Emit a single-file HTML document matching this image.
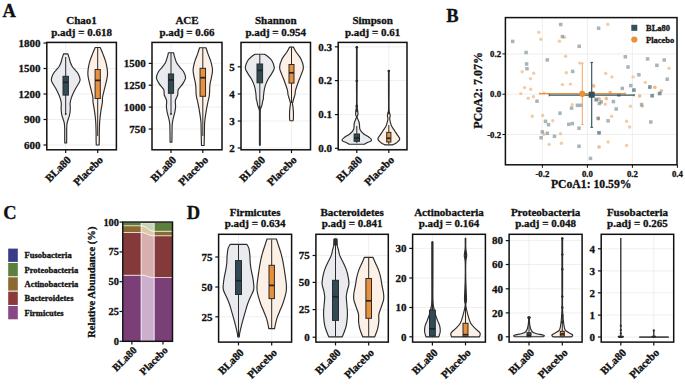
<!DOCTYPE html><html><head><meta charset="utf-8"><style>html,body{margin:0;padding:0;background:#fff;font-family:"Liberation Serif",serif;}svg{display:block;}</style></head><body>
<svg width="685" height="390" viewBox="0 0 685 390" font-family="&quot;Liberation Serif&quot;, serif" font-weight="bold" fill="#111">
<style>text{stroke:#111;stroke-width:0.3px;}</style>
<rect width="685" height="390" fill="#fff"/>
<text x="2.50" y="17.30" font-size="18.5" text-anchor="start" >A</text>
<text x="446.20" y="22.30" font-size="18.5" text-anchor="start" >B</text>
<text x="3.20" y="218.70" font-size="18.5" text-anchor="start" >C</text>
<text x="186.70" y="219.20" font-size="18.5" text-anchor="start" >D</text>
<line x1="46.8" y1="145" x2="116.4" y2="145" stroke="#ebebeb" stroke-width="0.8"/>
<line x1="46.8" y1="119.5" x2="116.4" y2="119.5" stroke="#ebebeb" stroke-width="0.8"/>
<line x1="46.8" y1="94" x2="116.4" y2="94" stroke="#ebebeb" stroke-width="0.8"/>
<line x1="46.8" y1="68.5" x2="116.4" y2="68.5" stroke="#ebebeb" stroke-width="0.8"/>
<line x1="46.8" y1="43" x2="116.4" y2="43" stroke="#ebebeb" stroke-width="0.8"/>
<line x1="65.7" y1="42.4" x2="65.7" y2="149.8" stroke="#ebebeb" stroke-width="0.8"/>
<line x1="97.7" y1="42.4" x2="97.7" y2="149.8" stroke="#ebebeb" stroke-width="0.8"/>
<path d="M67.80,53.80 C68.02,54.45 68.65,56.20 69.10,57.70 C69.55,59.20 69.95,61.30 70.50,62.80 C71.05,64.30 71.55,65.42 72.40,66.70 C73.25,67.98 74.58,69.22 75.60,70.50 C76.62,71.78 77.75,72.90 78.50,74.40 C79.25,75.90 80.05,78.02 80.10,79.50 C80.15,80.98 79.55,81.80 78.80,83.30 C78.05,84.80 76.55,86.78 75.60,88.50 C74.65,90.22 73.85,91.90 73.10,93.60 C72.35,95.30 71.60,97.05 71.10,98.70 C70.60,100.35 70.23,101.77 70.10,103.50 C69.97,105.23 70.38,107.22 70.30,109.10 C70.22,110.98 69.93,113.15 69.60,114.80 C69.27,116.45 68.72,117.60 68.30,119.00 C67.88,120.40 67.37,121.55 67.10,123.20 C66.83,124.85 66.77,126.43 66.70,128.90 C66.63,131.37 66.72,135.65 66.70,138.00 C66.68,140.35 66.62,142.17 66.60,143.00 L64.80,143.00 C64.78,142.17 64.72,140.35 64.70,138.00 C64.68,135.65 64.77,131.37 64.70,128.90 C64.63,126.43 64.57,124.85 64.30,123.20 C64.03,121.55 63.52,120.40 63.10,119.00 C62.68,117.60 62.13,116.45 61.80,114.80 C61.47,113.15 61.18,110.98 61.10,109.10 C61.02,107.22 61.43,105.23 61.30,103.50 C61.17,101.77 60.80,100.35 60.30,98.70 C59.80,97.05 59.05,95.30 58.30,93.60 C57.55,91.90 56.75,90.22 55.80,88.50 C54.85,86.78 53.35,84.80 52.60,83.30 C51.85,81.80 51.25,80.98 51.30,79.50 C51.35,78.02 52.15,75.90 52.90,74.40 C53.65,72.90 54.78,71.78 55.80,70.50 C56.82,69.22 58.15,67.98 59.00,66.70 C59.85,65.42 60.35,64.30 60.90,62.80 C61.45,61.30 61.85,59.20 62.30,57.70 C62.75,56.20 63.38,54.45 63.60,53.80 Z" fill="#e9ebee" stroke="#2b2b2b" stroke-width="1.15" stroke-linejoin="round"/>
<line x1="65.7" y1="57" x2="65.7" y2="114" stroke="#2b2b2b" stroke-width="1"/>
<rect x="63.00" y="76.30" width="5.40" height="18.80" fill="#2f4c56" stroke="#2b2b2b" stroke-width="1"/>
<line x1="63.00" y1="82.3" x2="68.40" y2="82.3" stroke="#222" stroke-width="1.7"/>
<circle cx="65.7" cy="114" r="0.9" fill="#222"/>
<path d="M100.20,47.50 C100.65,48.57 102.00,51.60 102.90,53.90 C103.80,56.20 104.88,58.82 105.60,61.30 C106.32,63.78 106.88,66.57 107.20,68.80 C107.52,71.03 107.62,72.72 107.50,74.70 C107.38,76.68 106.97,78.47 106.50,80.70 C106.03,82.93 105.35,85.38 104.70,88.10 C104.05,90.82 102.98,94.68 102.60,97.00 C102.22,99.32 102.63,99.98 102.40,102.00 C102.17,104.02 101.57,106.73 101.20,109.10 C100.83,111.47 100.47,113.85 100.20,116.20 C99.93,118.55 99.75,120.40 99.60,123.20 C99.45,126.00 99.35,130.20 99.30,133.00 C99.25,135.80 99.33,138.00 99.30,140.00 C99.27,142.00 99.13,144.17 99.10,145.00 L96.30,145.00 C96.27,144.17 96.13,142.00 96.10,140.00 C96.07,138.00 96.15,135.80 96.10,133.00 C96.05,130.20 95.95,126.00 95.80,123.20 C95.65,120.40 95.47,118.55 95.20,116.20 C94.93,113.85 94.57,111.47 94.20,109.10 C93.83,106.73 93.23,104.02 93.00,102.00 C92.77,99.98 93.18,99.32 92.80,97.00 C92.42,94.68 91.35,90.82 90.70,88.10 C90.05,85.38 89.37,82.93 88.90,80.70 C88.43,78.47 88.02,76.68 87.90,74.70 C87.78,72.72 87.88,71.03 88.20,68.80 C88.52,66.57 89.08,63.78 89.80,61.30 C90.52,58.82 91.60,56.20 92.50,53.90 C93.40,51.60 94.75,48.57 95.20,47.50 Z" fill="#fcf0e7" stroke="#2b2b2b" stroke-width="1.15" stroke-linejoin="round"/>
<line x1="97.7" y1="48" x2="97.7" y2="136" stroke="#2b2b2b" stroke-width="1"/>
<rect x="95.10" y="69.50" width="5.20" height="29.00" fill="#e8903a" stroke="#2b2b2b" stroke-width="1"/>
<line x1="95.10" y1="80.4" x2="100.30" y2="80.4" stroke="#222" stroke-width="1.7"/>
<rect x="46.8" y="42.4" width="69.60000000000001" height="107.4" fill="none" stroke="#111" stroke-width="1.5"/>
<line x1="43.5" y1="145" x2="46.8" y2="145" stroke="#111" stroke-width="1.2"/>
<text x="40.60" y="148.74" font-size="11" text-anchor="end" >600</text>
<line x1="43.5" y1="119.5" x2="46.8" y2="119.5" stroke="#111" stroke-width="1.2"/>
<text x="40.60" y="123.24" font-size="11" text-anchor="end" >900</text>
<line x1="43.5" y1="94" x2="46.8" y2="94" stroke="#111" stroke-width="1.2"/>
<text x="40.60" y="97.74" font-size="11" text-anchor="end" >1200</text>
<line x1="43.5" y1="68.5" x2="46.8" y2="68.5" stroke="#111" stroke-width="1.2"/>
<text x="40.60" y="72.24" font-size="11" text-anchor="end" >1500</text>
<line x1="43.5" y1="43" x2="46.8" y2="43" stroke="#111" stroke-width="1.2"/>
<text x="40.60" y="46.74" font-size="11" text-anchor="end" >1800</text>
<line x1="65.7" y1="149.8" x2="65.7" y2="153.10000000000002" stroke="#111" stroke-width="1.2"/>
<text x="71.70" y="160.60" font-size="11" text-anchor="end" transform="rotate(-45 71.70 160.60)">BLa80</text>
<line x1="97.7" y1="149.8" x2="97.7" y2="153.10000000000002" stroke="#111" stroke-width="1.2"/>
<text x="103.70" y="160.60" font-size="11" text-anchor="end" transform="rotate(-45 103.70 160.60)">Placebo</text>
<text x="81.60" y="23.70" font-size="11" text-anchor="middle" >Chao1</text>
<text x="81.60" y="35.50" font-size="11" text-anchor="middle" >p.adj = 0.618</text>
<line x1="152" y1="129" x2="222" y2="129" stroke="#ebebeb" stroke-width="0.8"/>
<line x1="152" y1="107.1" x2="222" y2="107.1" stroke="#ebebeb" stroke-width="0.8"/>
<line x1="152" y1="85.2" x2="222" y2="85.2" stroke="#ebebeb" stroke-width="0.8"/>
<line x1="152" y1="63.4" x2="222" y2="63.4" stroke="#ebebeb" stroke-width="0.8"/>
<line x1="171" y1="42.4" x2="171" y2="149.8" stroke="#ebebeb" stroke-width="0.8"/>
<line x1="202.8" y1="42.4" x2="202.8" y2="149.8" stroke="#ebebeb" stroke-width="0.8"/>
<path d="M173.60,52.70 C173.77,53.40 174.10,55.22 174.60,56.90 C175.10,58.58 175.72,61.07 176.60,62.80 C177.48,64.53 178.73,65.82 179.90,67.30 C181.07,68.78 182.65,69.97 183.60,71.70 C184.55,73.43 185.72,75.72 185.60,77.70 C185.48,79.68 184.12,81.62 182.90,83.60 C181.68,85.58 179.17,87.70 178.30,89.60 C177.43,91.50 178.18,93.17 177.70,95.00 C177.22,96.83 175.75,98.72 175.40,100.60 C175.05,102.48 175.68,104.42 175.60,106.30 C175.52,108.18 175.32,109.78 174.90,111.90 C174.48,114.02 173.55,116.88 173.10,119.00 C172.65,121.12 172.38,121.93 172.20,124.60 C172.02,127.27 172.05,132.07 172.00,135.00 C171.95,137.93 171.92,141.00 171.90,142.20 L170.10,142.20 C170.08,141.00 170.05,137.93 170.00,135.00 C169.95,132.07 169.98,127.27 169.80,124.60 C169.62,121.93 169.35,121.12 168.90,119.00 C168.45,116.88 167.52,114.02 167.10,111.90 C166.68,109.78 166.48,108.18 166.40,106.30 C166.32,104.42 166.95,102.48 166.60,100.60 C166.25,98.72 164.78,96.83 164.30,95.00 C163.82,93.17 164.57,91.50 163.70,89.60 C162.83,87.70 160.32,85.58 159.10,83.60 C157.88,81.62 156.52,79.68 156.40,77.70 C156.28,75.72 157.45,73.43 158.40,71.70 C159.35,69.97 160.93,68.78 162.10,67.30 C163.27,65.82 164.52,64.53 165.40,62.80 C166.28,61.07 166.90,58.58 167.40,56.90 C167.90,55.22 168.23,53.40 168.40,52.70 Z" fill="#e9ebee" stroke="#2b2b2b" stroke-width="1.15" stroke-linejoin="round"/>
<line x1="171" y1="53" x2="171" y2="114" stroke="#2b2b2b" stroke-width="1"/>
<rect x="168.40" y="74.00" width="5.20" height="19.30" fill="#2f4c56" stroke="#2b2b2b" stroke-width="1"/>
<line x1="168.40" y1="79.9" x2="173.60" y2="79.9" stroke="#222" stroke-width="1.7"/>
<circle cx="171" cy="114" r="0.9" fill="#222"/>
<path d="M206.00,47.70 C206.33,48.73 207.20,51.63 208.00,53.90 C208.80,56.17 210.05,58.70 210.80,61.30 C211.55,63.90 212.35,67.02 212.50,69.50 C212.65,71.98 212.13,73.60 211.70,76.20 C211.27,78.80 210.28,81.97 209.90,85.10 C209.52,88.23 209.73,92.18 209.40,95.00 C209.07,97.82 208.38,99.65 207.90,102.00 C207.42,104.35 206.92,106.73 206.50,109.10 C206.08,111.47 205.72,113.85 205.40,116.20 C205.08,118.55 204.77,120.15 204.60,123.20 C204.43,126.25 204.48,130.78 204.40,134.50 C204.32,138.22 204.15,143.67 204.10,145.50 L201.50,145.50 C201.45,143.67 201.28,138.22 201.20,134.50 C201.12,130.78 201.17,126.25 201.00,123.20 C200.83,120.15 200.52,118.55 200.20,116.20 C199.88,113.85 199.52,111.47 199.10,109.10 C198.68,106.73 198.18,104.35 197.70,102.00 C197.22,99.65 196.53,97.82 196.20,95.00 C195.87,92.18 196.08,88.23 195.70,85.10 C195.32,81.97 194.33,78.80 193.90,76.20 C193.47,73.60 192.95,71.98 193.10,69.50 C193.25,67.02 194.05,63.90 194.80,61.30 C195.55,58.70 196.80,56.17 197.60,53.90 C198.40,51.63 199.27,48.73 199.60,47.70 Z" fill="#fcf0e7" stroke="#2b2b2b" stroke-width="1.15" stroke-linejoin="round"/>
<line x1="202.8" y1="48" x2="202.8" y2="136" stroke="#2b2b2b" stroke-width="1"/>
<rect x="200.05" y="68.30" width="5.50" height="28.00" fill="#e8903a" stroke="#2b2b2b" stroke-width="1"/>
<line x1="200.05" y1="77.7" x2="205.55" y2="77.7" stroke="#222" stroke-width="1.7"/>
<rect x="152" y="42.4" width="70" height="107.4" fill="none" stroke="#111" stroke-width="1.5"/>
<line x1="148.7" y1="129" x2="152" y2="129" stroke="#111" stroke-width="1.2"/>
<text x="145.80" y="132.74" font-size="11" text-anchor="end" >750</text>
<line x1="148.7" y1="107.1" x2="152" y2="107.1" stroke="#111" stroke-width="1.2"/>
<text x="145.80" y="110.84" font-size="11" text-anchor="end" >1000</text>
<line x1="148.7" y1="85.2" x2="152" y2="85.2" stroke="#111" stroke-width="1.2"/>
<text x="145.80" y="88.94" font-size="11" text-anchor="end" >1250</text>
<line x1="148.7" y1="63.4" x2="152" y2="63.4" stroke="#111" stroke-width="1.2"/>
<text x="145.80" y="67.14" font-size="11" text-anchor="end" >1500</text>
<line x1="171" y1="149.8" x2="171" y2="153.10000000000002" stroke="#111" stroke-width="1.2"/>
<text x="177.00" y="160.60" font-size="11" text-anchor="end" transform="rotate(-45 177.00 160.60)">BLa80</text>
<line x1="202.8" y1="149.8" x2="202.8" y2="153.10000000000002" stroke="#111" stroke-width="1.2"/>
<text x="208.80" y="160.60" font-size="11" text-anchor="end" transform="rotate(-45 208.80 160.60)">Placebo</text>
<text x="187.00" y="23.70" font-size="11" text-anchor="middle" >ACE</text>
<text x="187.00" y="35.50" font-size="11" text-anchor="middle" >p.adj = 0.66</text>
<line x1="241" y1="148" x2="310.5" y2="148" stroke="#ebebeb" stroke-width="0.8"/>
<line x1="241" y1="121" x2="310.5" y2="121" stroke="#ebebeb" stroke-width="0.8"/>
<line x1="241" y1="94" x2="310.5" y2="94" stroke="#ebebeb" stroke-width="0.8"/>
<line x1="241" y1="66.8" x2="310.5" y2="66.8" stroke="#ebebeb" stroke-width="0.8"/>
<line x1="259.8" y1="42.4" x2="259.8" y2="149.8" stroke="#ebebeb" stroke-width="0.8"/>
<line x1="291.5" y1="42.4" x2="291.5" y2="149.8" stroke="#ebebeb" stroke-width="0.8"/>
<path d="M264.50,54.20 C265.02,54.55 266.38,55.25 267.60,56.30 C268.82,57.35 270.68,58.62 271.80,60.50 C272.92,62.38 274.28,65.48 274.30,67.60 C274.32,69.72 272.90,71.33 271.90,73.20 C270.90,75.07 269.42,76.68 268.30,78.80 C267.18,80.92 265.95,83.53 265.20,85.90 C264.45,88.27 264.12,90.77 263.80,93.00 C263.48,95.23 263.47,98.03 263.30,99.30 C263.13,100.57 263.05,99.55 262.80,100.60 C262.55,101.65 262.15,104.28 261.80,105.60 C261.45,106.92 260.98,107.43 260.70,108.50 C260.42,109.57 260.20,109.25 260.10,112.00 C260.00,114.75 260.10,119.48 260.10,125.00 C260.10,130.52 260.10,141.75 260.10,145.10 L259.50,145.10 C259.50,141.75 259.50,130.52 259.50,125.00 C259.50,119.48 259.60,114.75 259.50,112.00 C259.40,109.25 259.18,109.57 258.90,108.50 C258.62,107.43 258.15,106.92 257.80,105.60 C257.45,104.28 257.05,101.65 256.80,100.60 C256.55,99.55 256.47,100.57 256.30,99.30 C256.13,98.03 256.12,95.23 255.80,93.00 C255.48,90.77 255.15,88.27 254.40,85.90 C253.65,83.53 252.42,80.92 251.30,78.80 C250.18,76.68 248.70,75.07 247.70,73.20 C246.70,71.33 245.28,69.72 245.30,67.60 C245.32,65.48 246.68,62.38 247.80,60.50 C248.92,58.62 250.78,57.35 252.00,56.30 C253.22,55.25 254.58,54.55 255.10,54.20 Z" fill="#e9ebee" stroke="#2b2b2b" stroke-width="1.15" stroke-linejoin="round"/>
<line x1="259.8" y1="106" x2="259.8" y2="144.8" stroke="#333" stroke-width="1.7" stroke-linecap="round"/>
<line x1="259.8" y1="54.5" x2="259.8" y2="105.5" stroke="#2b2b2b" stroke-width="1"/>
<rect x="257.00" y="64.00" width="5.60" height="18.80" fill="#2f4c56" stroke="#2b2b2b" stroke-width="1"/>
<line x1="257.00" y1="70.4" x2="262.60" y2="70.4" stroke="#222" stroke-width="1.7"/>
<path d="M293.40,47.10 C293.85,47.92 294.83,50.00 296.10,52.00 C297.37,54.00 299.78,56.50 301.00,59.10 C302.22,61.70 303.37,65.02 303.40,67.60 C303.43,70.18 302.03,72.25 301.20,74.60 C300.37,76.95 299.33,79.12 298.40,81.70 C297.47,84.28 296.18,87.88 295.60,90.10 C295.02,92.32 295.23,93.48 294.90,95.00 C294.57,96.52 294.00,97.78 293.60,99.20 C293.20,100.62 292.62,102.32 292.50,103.50 C292.38,104.68 292.75,104.90 292.90,106.30 C293.05,107.70 293.32,109.78 293.40,111.90 C293.48,114.02 293.47,117.53 293.40,119.00 C293.33,120.47 293.07,120.42 293.00,120.70 L290.00,120.70 C289.93,120.42 289.67,120.47 289.60,119.00 C289.53,117.53 289.52,114.02 289.60,111.90 C289.68,109.78 289.95,107.70 290.10,106.30 C290.25,104.90 290.62,104.68 290.50,103.50 C290.38,102.32 289.80,100.62 289.40,99.20 C289.00,97.78 288.43,96.52 288.10,95.00 C287.77,93.48 287.98,92.32 287.40,90.10 C286.82,87.88 285.53,84.28 284.60,81.70 C283.67,79.12 282.63,76.95 281.80,74.60 C280.97,72.25 279.57,70.18 279.60,67.60 C279.63,65.02 280.78,61.70 282.00,59.10 C283.22,56.50 285.63,54.00 286.90,52.00 C288.17,50.00 289.15,47.92 289.60,47.10 Z" fill="#fcf0e7" stroke="#2b2b2b" stroke-width="1.15" stroke-linejoin="round"/>
<line x1="291.5" y1="47.5" x2="291.5" y2="103" stroke="#2b2b2b" stroke-width="1"/>
<rect x="289.00" y="64.50" width="5.00" height="18.60" fill="#e8903a" stroke="#2b2b2b" stroke-width="1"/>
<line x1="289.00" y1="72.8" x2="294.00" y2="72.8" stroke="#222" stroke-width="1.7"/>
<rect x="241" y="42.4" width="69.5" height="107.4" fill="none" stroke="#111" stroke-width="1.5"/>
<line x1="237.7" y1="148" x2="241" y2="148" stroke="#111" stroke-width="1.2"/>
<text x="234.80" y="151.74" font-size="11" text-anchor="end" >2</text>
<line x1="237.7" y1="121" x2="241" y2="121" stroke="#111" stroke-width="1.2"/>
<text x="234.80" y="124.74" font-size="11" text-anchor="end" >3</text>
<line x1="237.7" y1="94" x2="241" y2="94" stroke="#111" stroke-width="1.2"/>
<text x="234.80" y="97.74" font-size="11" text-anchor="end" >4</text>
<line x1="237.7" y1="66.8" x2="241" y2="66.8" stroke="#111" stroke-width="1.2"/>
<text x="234.80" y="70.54" font-size="11" text-anchor="end" >5</text>
<line x1="259.8" y1="149.8" x2="259.8" y2="153.10000000000002" stroke="#111" stroke-width="1.2"/>
<text x="265.80" y="160.60" font-size="11" text-anchor="end" transform="rotate(-45 265.80 160.60)">BLa80</text>
<line x1="291.5" y1="149.8" x2="291.5" y2="153.10000000000002" stroke="#111" stroke-width="1.2"/>
<text x="297.50" y="160.60" font-size="11" text-anchor="end" transform="rotate(-45 297.50 160.60)">Placebo</text>
<text x="275.75" y="23.70" font-size="11" text-anchor="middle" >Shannon</text>
<text x="275.75" y="35.50" font-size="11" text-anchor="middle" >p.adj = 0.954</text>
<line x1="338.2" y1="148.3" x2="407" y2="148.3" stroke="#ebebeb" stroke-width="0.8"/>
<line x1="338.2" y1="114.6" x2="407" y2="114.6" stroke="#ebebeb" stroke-width="0.8"/>
<line x1="338.2" y1="80.6" x2="407" y2="80.6" stroke="#ebebeb" stroke-width="0.8"/>
<line x1="338.2" y1="46.8" x2="407" y2="46.8" stroke="#ebebeb" stroke-width="0.8"/>
<line x1="356.8" y1="42.4" x2="356.8" y2="149.8" stroke="#ebebeb" stroke-width="0.8"/>
<line x1="388.8" y1="42.4" x2="388.8" y2="149.8" stroke="#ebebeb" stroke-width="0.8"/>
<path d="M357.10,46.80 C357.10,49.00 357.10,55.30 357.10,60.00 C357.10,64.70 357.10,70.50 357.10,75.00 C357.10,79.50 357.10,82.00 357.10,87.00 C357.10,92.00 356.95,100.48 357.10,105.00 C357.25,109.52 358.00,112.10 358.00,114.10 C358.00,116.10 356.88,115.52 357.10,117.00 C357.32,118.48 358.82,120.92 359.30,123.00 C359.78,125.08 359.25,127.67 360.00,129.50 C360.75,131.33 362.30,132.72 363.80,134.00 C365.30,135.28 367.72,136.13 369.00,137.20 C370.28,138.27 371.93,139.43 371.50,140.40 C371.07,141.37 367.57,142.37 366.40,143.00 C365.23,143.63 364.82,144.00 364.50,144.20 L349.10,144.20 C348.78,144.00 348.37,143.63 347.20,143.00 C346.03,142.37 342.53,141.37 342.10,140.40 C341.67,139.43 343.32,138.27 344.60,137.20 C345.88,136.13 348.30,135.28 349.80,134.00 C351.30,132.72 352.85,131.33 353.60,129.50 C354.35,127.67 353.82,125.08 354.30,123.00 C354.78,120.92 356.28,118.48 356.50,117.00 C356.72,115.52 355.60,116.10 355.60,114.10 C355.60,112.10 356.35,109.52 356.50,105.00 C356.65,100.48 356.50,92.00 356.50,87.00 C356.50,82.00 356.50,79.50 356.50,75.00 C356.50,70.50 356.50,64.70 356.50,60.00 C356.50,55.30 356.50,49.00 356.50,46.80 Z" fill="#e9ebee" stroke="#2b2b2b" stroke-width="1.15" stroke-linejoin="round"/>
<circle cx="356.8" cy="47.3" r="1.35" fill="#2b2b2b"/>
<circle cx="356.8" cy="81.0" r="1.35" fill="#2b2b2b"/>
<circle cx="356.8" cy="106.0" r="1.35" fill="#2b2b2b"/>
<circle cx="356.8" cy="110.7" r="1.35" fill="#2b2b2b"/>
<line x1="356.8" y1="126" x2="356.8" y2="143" stroke="#2b2b2b" stroke-width="1"/>
<rect x="354.10" y="134.00" width="5.40" height="7.30" fill="#2f4c56" stroke="#2b2b2b" stroke-width="1"/>
<line x1="354.10" y1="138" x2="359.50" y2="138" stroke="#222" stroke-width="1.7"/>
<path d="M389.10,70.50 C389.10,73.75 389.10,83.42 389.10,90.00 C389.10,96.58 388.92,105.77 389.10,110.00 C389.28,114.23 390.10,113.90 390.20,115.40 C390.30,116.90 389.50,117.30 389.70,119.00 C389.90,120.70 390.58,123.63 391.40,125.60 C392.22,127.57 393.65,129.30 394.60,130.80 C395.55,132.30 396.25,133.22 397.10,134.60 C397.95,135.98 399.85,137.70 399.70,139.10 C399.55,140.50 397.38,142.03 396.20,143.00 C395.02,143.97 393.20,144.58 392.60,144.90 L385.00,144.90 C384.40,144.58 382.58,143.97 381.40,143.00 C380.22,142.03 378.05,140.50 377.90,139.10 C377.75,137.70 379.65,135.98 380.50,134.60 C381.35,133.22 382.05,132.30 383.00,130.80 C383.95,129.30 385.38,127.57 386.20,125.60 C387.02,123.63 387.70,120.70 387.90,119.00 C388.10,117.30 387.30,116.90 387.40,115.40 C387.50,113.90 388.32,114.23 388.50,110.00 C388.68,105.77 388.50,96.58 388.50,90.00 C388.50,83.42 388.50,73.75 388.50,70.50 Z" fill="#fcf0e7" stroke="#2b2b2b" stroke-width="1.15" stroke-linejoin="round"/>
<circle cx="388.8" cy="71.0" r="1.3" fill="#2b2b2b"/>
<circle cx="388.8" cy="113.0" r="1.3" fill="#2b2b2b"/>
<line x1="388.8" y1="125" x2="388.8" y2="144" stroke="#2b2b2b" stroke-width="1"/>
<rect x="386.70" y="132.40" width="4.20" height="9.60" fill="#e8903a" stroke="#2b2b2b" stroke-width="1"/>
<line x1="386.70" y1="138.3" x2="390.90" y2="138.3" stroke="#222" stroke-width="1.7"/>
<rect x="338.2" y="42.4" width="68.80000000000001" height="107.4" fill="none" stroke="#111" stroke-width="1.5"/>
<line x1="334.9" y1="148.3" x2="338.2" y2="148.3" stroke="#111" stroke-width="1.2"/>
<text x="332.00" y="152.04" font-size="11" text-anchor="end" >0.0</text>
<line x1="334.9" y1="114.6" x2="338.2" y2="114.6" stroke="#111" stroke-width="1.2"/>
<text x="332.00" y="118.34" font-size="11" text-anchor="end" >0.1</text>
<line x1="334.9" y1="80.6" x2="338.2" y2="80.6" stroke="#111" stroke-width="1.2"/>
<text x="332.00" y="84.34" font-size="11" text-anchor="end" >0.2</text>
<line x1="334.9" y1="46.8" x2="338.2" y2="46.8" stroke="#111" stroke-width="1.2"/>
<text x="332.00" y="50.54" font-size="11" text-anchor="end" >0.3</text>
<line x1="356.8" y1="149.8" x2="356.8" y2="153.10000000000002" stroke="#111" stroke-width="1.2"/>
<text x="362.80" y="160.60" font-size="11" text-anchor="end" transform="rotate(-45 362.80 160.60)">BLa80</text>
<line x1="388.8" y1="149.8" x2="388.8" y2="153.10000000000002" stroke="#111" stroke-width="1.2"/>
<text x="394.80" y="160.60" font-size="11" text-anchor="end" transform="rotate(-45 394.80 160.60)">Placebo</text>
<text x="372.60" y="23.70" font-size="11" text-anchor="middle" >Simpson</text>
<text x="372.60" y="35.50" font-size="11" text-anchor="middle" >p.adj = 0.61</text>
<line x1="505.4" y1="53.900000000000006" x2="677" y2="53.900000000000006" stroke="#ebebeb" stroke-width="0.8"/>
<line x1="505.4" y1="94.2" x2="677" y2="94.2" stroke="#ebebeb" stroke-width="0.8"/>
<line x1="505.4" y1="134.5" x2="677" y2="134.5" stroke="#ebebeb" stroke-width="0.8"/>
<line x1="542.4" y1="17.6" x2="542.4" y2="164.8" stroke="#ebebeb" stroke-width="0.8"/>
<line x1="587.4" y1="17.6" x2="587.4" y2="164.8" stroke="#ebebeb" stroke-width="0.8"/>
<line x1="632.4" y1="17.6" x2="632.4" y2="164.8" stroke="#ebebeb" stroke-width="0.8"/>
<line x1="677.4" y1="17.6" x2="677.4" y2="164.8" stroke="#ebebeb" stroke-width="0.8"/>
<circle cx="538.8" cy="32.2" r="1.7" fill="#f0b27a" fill-opacity="0.68"/>
<circle cx="540.9" cy="39.3" r="1.7" fill="#f0b27a" fill-opacity="0.68"/>
<circle cx="559.4" cy="41.2" r="1.7" fill="#f0b27a" fill-opacity="0.68"/>
<circle cx="564.4" cy="37.3" r="1.7" fill="#f0b27a" fill-opacity="0.68"/>
<circle cx="565.6" cy="56.2" r="1.7" fill="#f0b27a" fill-opacity="0.68"/>
<circle cx="579.7" cy="63.1" r="1.7" fill="#f0b27a" fill-opacity="0.68"/>
<circle cx="522.2" cy="71.7" r="1.7" fill="#f0b27a" fill-opacity="0.68"/>
<circle cx="533.7" cy="73.3" r="1.7" fill="#f0b27a" fill-opacity="0.68"/>
<circle cx="530.5" cy="78.6" r="1.7" fill="#f0b27a" fill-opacity="0.68"/>
<circle cx="566.3" cy="72.8" r="1.7" fill="#f0b27a" fill-opacity="0.68"/>
<circle cx="562.4" cy="84.6" r="1.7" fill="#f0b27a" fill-opacity="0.68"/>
<circle cx="570.4" cy="84.1" r="1.7" fill="#f0b27a" fill-opacity="0.68"/>
<circle cx="524.5" cy="87.6" r="1.7" fill="#f0b27a" fill-opacity="0.68"/>
<circle cx="530.7" cy="89.2" r="1.7" fill="#f0b27a" fill-opacity="0.68"/>
<circle cx="520.8" cy="93.6" r="1.7" fill="#f0b27a" fill-opacity="0.68"/>
<circle cx="543.9" cy="93.1" r="1.7" fill="#f0b27a" fill-opacity="0.68"/>
<circle cx="593.5" cy="85.5" r="1.7" fill="#f0b27a" fill-opacity="0.68"/>
<circle cx="528.2" cy="98.2" r="1.7" fill="#f0b27a" fill-opacity="0.68"/>
<circle cx="533.5" cy="96.8" r="1.7" fill="#f0b27a" fill-opacity="0.68"/>
<circle cx="607.8" cy="24.3" r="1.7" fill="#f0b27a" fill-opacity="0.68"/>
<circle cx="669.1" cy="68.3" r="1.7" fill="#f0b27a" fill-opacity="0.68"/>
<circle cx="605.7" cy="73.4" r="1.7" fill="#f0b27a" fill-opacity="0.68"/>
<circle cx="611.9" cy="76.9" r="1.7" fill="#f0b27a" fill-opacity="0.68"/>
<circle cx="633.1" cy="76.9" r="1.7" fill="#f0b27a" fill-opacity="0.68"/>
<circle cx="645.3" cy="82.4" r="1.7" fill="#f0b27a" fill-opacity="0.68"/>
<circle cx="655" cy="87.5" r="1.7" fill="#f0b27a" fill-opacity="0.68"/>
<circle cx="661.5" cy="90.9" r="1.7" fill="#f0b27a" fill-opacity="0.68"/>
<circle cx="610.3" cy="92.1" r="1.7" fill="#f0b27a" fill-opacity="0.68"/>
<circle cx="639.6" cy="96" r="1.7" fill="#f0b27a" fill-opacity="0.68"/>
<circle cx="599.2" cy="98.8" r="1.7" fill="#f0b27a" fill-opacity="0.68"/>
<circle cx="606.1" cy="98.3" r="1.7" fill="#f0b27a" fill-opacity="0.68"/>
<circle cx="572.3" cy="104.6" r="1.7" fill="#f0b27a" fill-opacity="0.68"/>
<circle cx="532.3" cy="116.2" r="1.7" fill="#f0b27a" fill-opacity="0.68"/>
<circle cx="542.7" cy="115.5" r="1.7" fill="#f0b27a" fill-opacity="0.68"/>
<circle cx="552.7" cy="120.8" r="1.7" fill="#f0b27a" fill-opacity="0.68"/>
<circle cx="543.9" cy="134.2" r="1.7" fill="#f0b27a" fill-opacity="0.68"/>
<circle cx="560.5" cy="133.7" r="1.7" fill="#f0b27a" fill-opacity="0.68"/>
<circle cx="549.2" cy="144.4" r="1.7" fill="#f0b27a" fill-opacity="0.68"/>
<circle cx="561.4" cy="143.2" r="1.7" fill="#f0b27a" fill-opacity="0.68"/>
<circle cx="598.2" cy="118" r="1.7" fill="#f0b27a" fill-opacity="0.68"/>
<circle cx="598.8" cy="146.9" r="1.7" fill="#f0b27a" fill-opacity="0.68"/>
<circle cx="593.8" cy="86.2" r="1.7" fill="#f0b27a" fill-opacity="0.68"/>
<circle cx="654.7" cy="87.3" r="1.7" fill="#f0b27a" fill-opacity="0.68"/>
<circle cx="661.2" cy="90.8" r="1.7" fill="#f0b27a" fill-opacity="0.68"/>
<circle cx="610" cy="92.4" r="1.7" fill="#f0b27a" fill-opacity="0.68"/>
<circle cx="599.3" cy="99.3" r="1.7" fill="#f0b27a" fill-opacity="0.68"/>
<circle cx="606.5" cy="98.9" r="1.7" fill="#f0b27a" fill-opacity="0.68"/>
<circle cx="605.3" cy="104.2" r="1.7" fill="#f0b27a" fill-opacity="0.68"/>
<circle cx="639.7" cy="95.9" r="1.7" fill="#f0b27a" fill-opacity="0.68"/>
<circle cx="630.5" cy="106.2" r="1.7" fill="#f0b27a" fill-opacity="0.68"/>
<circle cx="642.3" cy="106.2" r="1.7" fill="#f0b27a" fill-opacity="0.68"/>
<circle cx="611.6" cy="116.2" r="1.7" fill="#f0b27a" fill-opacity="0.68"/>
<circle cx="598.4" cy="118.5" r="1.7" fill="#f0b27a" fill-opacity="0.68"/>
<circle cx="626.6" cy="121.3" r="1.7" fill="#f0b27a" fill-opacity="0.68"/>
<circle cx="629.6" cy="127" r="1.7" fill="#f0b27a" fill-opacity="0.68"/>
<circle cx="608.1" cy="142" r="1.7" fill="#f0b27a" fill-opacity="0.68"/>
<circle cx="599.3" cy="146.9" r="1.7" fill="#f0b27a" fill-opacity="0.68"/>
<circle cx="626.6" cy="145.5" r="1.7" fill="#f0b27a" fill-opacity="0.68"/>
<rect x="510.95" y="39.65" width="3.5" height="3.5" fill="#5f7680" fill-opacity="0.55"/>
<rect x="558.95" y="22.75" width="3.5" height="3.5" fill="#5f7680" fill-opacity="0.55"/>
<rect x="560.65" y="34.85" width="3.5" height="3.5" fill="#5f7680" fill-opacity="0.55"/>
<rect x="577.45" y="44.55" width="3.5" height="3.5" fill="#5f7680" fill-opacity="0.55"/>
<rect x="596.85" y="26.45" width="3.5" height="3.5" fill="#5f7680" fill-opacity="0.55"/>
<rect x="524.35" y="50.75" width="3.5" height="3.5" fill="#5f7680" fill-opacity="0.55"/>
<rect x="545.55" y="58.15" width="3.5" height="3.5" fill="#5f7680" fill-opacity="0.55"/>
<rect x="524.85" y="62.25" width="3.5" height="3.5" fill="#5f7680" fill-opacity="0.55"/>
<rect x="525.25" y="66.95" width="3.5" height="3.5" fill="#5f7680" fill-opacity="0.55"/>
<rect x="570.95" y="69.65" width="3.5" height="3.5" fill="#5f7680" fill-opacity="0.55"/>
<rect x="623.55" y="55.05" width="3.5" height="3.5" fill="#5f7680" fill-opacity="0.55"/>
<rect x="645.85" y="57.15" width="3.5" height="3.5" fill="#5f7680" fill-opacity="0.55"/>
<rect x="662.45" y="58.25" width="3.5" height="3.5" fill="#5f7680" fill-opacity="0.55"/>
<rect x="655.15" y="63.55" width="3.5" height="3.5" fill="#5f7680" fill-opacity="0.55"/>
<rect x="626.25" y="65.25" width="3.5" height="3.5" fill="#5f7680" fill-opacity="0.55"/>
<rect x="637.15" y="73.05" width="3.5" height="3.5" fill="#5f7680" fill-opacity="0.55"/>
<rect x="665.45" y="77.45" width="3.5" height="3.5" fill="#5f7680" fill-opacity="0.55"/>
<rect x="629.05" y="83.85" width="3.5" height="3.5" fill="#5f7680" fill-opacity="0.55"/>
<rect x="620.55" y="86.65" width="3.5" height="3.5" fill="#5f7680" fill-opacity="0.55"/>
<rect x="648.25" y="85.05" width="3.5" height="3.5" fill="#5f7680" fill-opacity="0.55"/>
<rect x="632.05" y="88.45" width="3.5" height="3.5" fill="#5f7680" fill-opacity="0.55"/>
<rect x="658.15" y="91.75" width="3.5" height="3.5" fill="#5f7680" fill-opacity="0.55"/>
<rect x="650.55" y="93.75" width="3.5" height="3.5" fill="#5f7680" fill-opacity="0.55"/>
<rect x="617.05" y="93.15" width="3.5" height="3.5" fill="#5f7680" fill-opacity="0.55"/>
<rect x="535.25" y="99.45" width="3.5" height="3.5" fill="#5f7680" fill-opacity="0.55"/>
<rect x="569.85" y="106.35" width="3.5" height="3.5" fill="#5f7680" fill-opacity="0.55"/>
<rect x="575.65" y="103.55" width="3.5" height="3.5" fill="#5f7680" fill-opacity="0.55"/>
<rect x="579.05" y="103.55" width="3.5" height="3.5" fill="#5f7680" fill-opacity="0.55"/>
<rect x="558.25" y="111.45" width="3.5" height="3.5" fill="#5f7680" fill-opacity="0.55"/>
<rect x="543.75" y="119.55" width="3.5" height="3.5" fill="#5f7680" fill-opacity="0.55"/>
<rect x="546.75" y="122.95" width="3.5" height="3.5" fill="#5f7680" fill-opacity="0.55"/>
<rect x="567.05" y="122.55" width="3.5" height="3.5" fill="#5f7680" fill-opacity="0.55"/>
<rect x="570.55" y="121.85" width="3.5" height="3.5" fill="#5f7680" fill-opacity="0.55"/>
<rect x="577.25" y="126.45" width="3.5" height="3.5" fill="#5f7680" fill-opacity="0.55"/>
<rect x="540.55" y="130.15" width="3.5" height="3.5" fill="#5f7680" fill-opacity="0.55"/>
<rect x="545.55" y="131.55" width="3.5" height="3.5" fill="#5f7680" fill-opacity="0.55"/>
<rect x="552.75" y="134.55" width="3.5" height="3.5" fill="#5f7680" fill-opacity="0.55"/>
<rect x="539.35" y="135.95" width="3.5" height="3.5" fill="#5f7680" fill-opacity="0.55"/>
<rect x="577.25" y="144.45" width="3.5" height="3.5" fill="#5f7680" fill-opacity="0.55"/>
<rect x="588.75" y="156.65" width="3.5" height="3.5" fill="#5f7680" fill-opacity="0.55"/>
<rect x="594.75" y="97.55" width="3.5" height="3.5" fill="#5f7680" fill-opacity="0.55"/>
<rect x="597.05" y="131.05" width="3.5" height="3.5" fill="#5f7680" fill-opacity="0.55"/>
<rect x="632.25" y="88.25" width="3.5" height="3.5" fill="#5f7680" fill-opacity="0.55"/>
<rect x="647.95" y="85.55" width="3.5" height="3.5" fill="#5f7680" fill-opacity="0.55"/>
<rect x="657.65" y="91.75" width="3.5" height="3.5" fill="#5f7680" fill-opacity="0.55"/>
<rect x="650.25" y="94.15" width="3.5" height="3.5" fill="#5f7680" fill-opacity="0.55"/>
<rect x="594.25" y="98.25" width="3.5" height="3.5" fill="#5f7680" fill-opacity="0.55"/>
<rect x="597.55" y="101.75" width="3.5" height="3.5" fill="#5f7680" fill-opacity="0.55"/>
<rect x="599.45" y="100.15" width="3.5" height="3.5" fill="#5f7680" fill-opacity="0.55"/>
<rect x="611.65" y="99.85" width="3.5" height="3.5" fill="#5f7680" fill-opacity="0.55"/>
<rect x="617.25" y="92.95" width="3.5" height="3.5" fill="#5f7680" fill-opacity="0.55"/>
<rect x="614.45" y="107.25" width="3.5" height="3.5" fill="#5f7680" fill-opacity="0.55"/>
<rect x="639.85" y="102.85" width="3.5" height="3.5" fill="#5f7680" fill-opacity="0.55"/>
<rect x="596.45" y="116.75" width="3.5" height="3.5" fill="#5f7680" fill-opacity="0.55"/>
<rect x="606.35" y="119.05" width="3.5" height="3.5" fill="#5f7680" fill-opacity="0.55"/>
<rect x="649.05" y="120.25" width="3.5" height="3.5" fill="#5f7680" fill-opacity="0.55"/>
<rect x="597.55" y="131.05" width="3.5" height="3.5" fill="#5f7680" fill-opacity="0.55"/>
<line x1="539.8" y1="93.6" x2="625.2" y2="93.6" stroke="#e8913a" stroke-width="1.4"/>
<line x1="539.8" y1="92.4" x2="539.8" y2="94.8" stroke="#e8913a" stroke-width="1"/>
<line x1="625.2" y1="92.4" x2="625.2" y2="94.8" stroke="#e8913a" stroke-width="1"/>
<line x1="549.2" y1="95.1" x2="634.1" y2="95.1" stroke="#34505a" stroke-width="1.4"/>
<line x1="549.2" y1="93.9" x2="549.2" y2="96.3" stroke="#34505a" stroke-width="1"/>
<line x1="634.1" y1="93.9" x2="634.1" y2="96.3" stroke="#34505a" stroke-width="1"/>
<line x1="582.3" y1="63.1" x2="582.3" y2="124.5" stroke="#eea565" stroke-width="1.0"/>
<line x1="581" y1="63.1" x2="583.6" y2="63.1" stroke="#eea565" stroke-width="0.9"/>
<line x1="581" y1="124.5" x2="583.6" y2="124.5" stroke="#eea565" stroke-width="0.9"/>
<line x1="591.7" y1="62.4" x2="591.7" y2="127.3" stroke="#34505a" stroke-width="1.15"/>
<line x1="590.3" y1="62.4" x2="593.1" y2="62.4" stroke="#34505a" stroke-width="1"/>
<line x1="590.3" y1="127.3" x2="593.1" y2="127.3" stroke="#34505a" stroke-width="1"/>
<circle cx="582.3" cy="93.8" r="3.1" fill="#e8913a"/>
<rect x="588.7" y="91.7" width="6" height="6" fill="#34505a"/>
<rect x="631.3" y="24.8" width="6" height="6" fill="#34505a"/>
<circle cx="634.3" cy="39.5" r="3.1" fill="#e8913a"/>
<text x="646.00" y="30.80" font-size="8.5" text-anchor="start" >BLa80</text>
<text x="646.00" y="42.50" font-size="8.5" text-anchor="start" >Placebo</text>
<rect x="505.4" y="17.6" width="171.60000000000002" height="147.20000000000002" fill="none" stroke="#111" stroke-width="1.5"/>
<line x1="502.4" y1="53.900000000000006" x2="505.4" y2="53.900000000000006" stroke="#111" stroke-width="1"/>
<text x="501.10" y="56.90" font-size="8.8" text-anchor="end" >0.2</text>
<line x1="502.4" y1="94.2" x2="505.4" y2="94.2" stroke="#111" stroke-width="1"/>
<text x="501.10" y="97.20" font-size="8.8" text-anchor="end" >0.0</text>
<line x1="502.4" y1="134.5" x2="505.4" y2="134.5" stroke="#111" stroke-width="1"/>
<text x="501.10" y="137.50" font-size="8.8" text-anchor="end" >-0.2</text>
<line x1="542.4" y1="164.8" x2="542.4" y2="167.8" stroke="#111" stroke-width="1"/>
<text x="542.40" y="177.20" font-size="8.8" text-anchor="middle" >-0.2</text>
<line x1="587.4" y1="164.8" x2="587.4" y2="167.8" stroke="#111" stroke-width="1"/>
<text x="587.40" y="177.20" font-size="8.8" text-anchor="middle" >0.0</text>
<line x1="632.4" y1="164.8" x2="632.4" y2="167.8" stroke="#111" stroke-width="1"/>
<text x="632.40" y="177.20" font-size="8.8" text-anchor="middle" >0.2</text>
<line x1="677.4" y1="164.8" x2="677.4" y2="167.8" stroke="#111" stroke-width="1"/>
<text x="677.40" y="177.20" font-size="8.8" text-anchor="middle" >0.4</text>
<text x="591.20" y="188.40" font-size="11.7" text-anchor="middle" >PCoA1: 10.59%</text>
<text x="482.3" y="90.4" font-size="12" text-anchor="middle" transform="rotate(-90 482.3 90.4)">PCoA2: 7.07%</text>
<rect x="8.2" y="248.60" width="9.6" height="13.3" fill="#3a3a8a"/>
<text x="24.50" y="258.20" font-size="8.5" text-anchor="start" >Fusobacteria</text>
<rect x="8.2" y="262.95" width="9.6" height="13.3" fill="#5c7f3c"/>
<text x="24.50" y="272.55" font-size="8.5" text-anchor="start" >Proteobacteria</text>
<rect x="8.2" y="277.30" width="9.6" height="13.3" fill="#8b692f"/>
<text x="24.50" y="286.90" font-size="8.5" text-anchor="start" >Actinobacteria</text>
<rect x="8.2" y="291.65" width="9.6" height="13.3" fill="#8a3a3a"/>
<text x="24.50" y="301.25" font-size="8.5" text-anchor="start" >Bacteroidetes</text>
<rect x="8.2" y="306.00" width="9.6" height="13.3" fill="#874886"/>
<text x="24.50" y="315.60" font-size="8.5" text-anchor="start" >Firmicutes</text>
<path d="M141.0,275.14 C147.6,275.14 147.6,277.53 154.2,277.53 L154.2,341.30 C147.6,341.30 147.6,341.30 141.0,341.30 Z" fill="#ccafcd" stroke="#fff" stroke-width="0.6"/>
<path d="M141.0,232.47 C147.6,232.47 147.6,235.81 154.2,235.81 L154.2,277.53 C147.6,277.53 147.6,275.14 141.0,275.14 Z" fill="#d9aeae" stroke="#fff" stroke-width="0.6"/>
<path d="M141.0,225.80 C147.6,225.80 147.6,231.16 154.2,231.16 L154.2,235.81 C147.6,235.81 147.6,232.47 141.0,232.47 Z" fill="#dccaa6" stroke="#fff" stroke-width="0.6"/>
<path d="M141.0,222.70 C147.6,222.70 147.6,222.70 154.2,222.70 L154.2,231.16 C147.6,231.16 147.6,225.80 141.0,225.80 Z" fill="#c8d4b6" stroke="#fff" stroke-width="0.6"/>
<path d="M141.0,222.10 C147.6,222.10 147.6,222.10 154.2,222.10 L154.2,222.70 C147.6,222.70 147.6,222.70 141.0,222.70 Z" fill="#b8b8d6" stroke="#fff" stroke-width="0.6"/>
<rect x="122.8" y="275.14" width="18.200000000000003" height="66.16" fill="#7b3f78" stroke="#fff" stroke-width="0.6"/>
<rect x="154.2" y="277.53" width="18.30000000000001" height="63.77" fill="#7b3f78" stroke="#fff" stroke-width="0.6"/>
<rect x="122.8" y="232.47" width="18.200000000000003" height="42.67" fill="#843a3a" stroke="#fff" stroke-width="0.6"/>
<rect x="154.2" y="235.81" width="18.30000000000001" height="41.72" fill="#843a3a" stroke="#fff" stroke-width="0.6"/>
<rect x="122.8" y="225.80" width="18.200000000000003" height="6.68" fill="#8b692f" stroke="#fff" stroke-width="0.6"/>
<rect x="154.2" y="231.16" width="18.30000000000001" height="4.65" fill="#8b692f" stroke="#fff" stroke-width="0.6"/>
<rect x="122.8" y="222.70" width="18.200000000000003" height="3.10" fill="#5c7f3c" stroke="#fff" stroke-width="0.6"/>
<rect x="154.2" y="222.70" width="18.30000000000001" height="8.46" fill="#5c7f3c" stroke="#fff" stroke-width="0.6"/>
<rect x="122.8" y="222.10" width="18.200000000000003" height="0.60" fill="#3a3a8a" stroke="#fff" stroke-width="0.6"/>
<rect x="154.2" y="222.10" width="18.30000000000001" height="0.60" fill="#3a3a8a" stroke="#fff" stroke-width="0.6"/>
<rect x="122.8" y="222.1" width="49.7" height="119.20000000000002" fill="none" stroke="#111" stroke-width="1.5"/>
<line x1="119.5" y1="341.30" x2="122.8" y2="341.30" stroke="#111" stroke-width="1.2"/>
<text x="119.00" y="344.80" font-size="10.4" text-anchor="end" >0</text>
<line x1="119.5" y1="311.50" x2="122.8" y2="311.50" stroke="#111" stroke-width="1.2"/>
<text x="119.00" y="315.00" font-size="10.4" text-anchor="end" >25</text>
<line x1="119.5" y1="281.70" x2="122.8" y2="281.70" stroke="#111" stroke-width="1.2"/>
<text x="119.00" y="285.20" font-size="10.4" text-anchor="end" >50</text>
<line x1="119.5" y1="251.90" x2="122.8" y2="251.90" stroke="#111" stroke-width="1.2"/>
<text x="119.00" y="255.40" font-size="10.4" text-anchor="end" >75</text>
<line x1="119.5" y1="222.10" x2="122.8" y2="222.10" stroke="#111" stroke-width="1.2"/>
<text x="119.00" y="225.60" font-size="10.4" text-anchor="end" >100</text>
<line x1="131.9" y1="341.3" x2="131.9" y2="344.6" stroke="#111" stroke-width="1.2"/>
<text x="137.50" y="350.90" font-size="10.5" text-anchor="end" transform="rotate(-45 137.50 350.90)">BLa80</text>
<line x1="163" y1="341.3" x2="163" y2="344.6" stroke="#111" stroke-width="1.2"/>
<text x="168.60" y="350.90" font-size="10.5" text-anchor="end" transform="rotate(-45 168.60 350.90)">Placebo</text>
<text x="95.4" y="282.2" font-size="10.6" text-anchor="middle" transform="rotate(-90 95.4 282.2)">Relative Abundance (%)</text>
<line x1="218.6" y1="316.8" x2="291.6" y2="316.8" stroke="#ebebeb" stroke-width="0.8"/>
<line x1="218.6" y1="287.0" x2="291.6" y2="287.0" stroke="#ebebeb" stroke-width="0.8"/>
<line x1="218.6" y1="257.0" x2="291.6" y2="257.0" stroke="#ebebeb" stroke-width="0.8"/>
<line x1="238.5" y1="234.3" x2="238.5" y2="342.1" stroke="#ebebeb" stroke-width="0.8"/>
<line x1="271.7" y1="234.3" x2="271.7" y2="342.1" stroke="#ebebeb" stroke-width="0.8"/>
<path d="M246.80,244.30 C247.15,244.98 248.38,246.52 248.90,248.40 C249.42,250.28 249.68,253.22 249.90,255.60 C250.12,257.98 249.98,260.32 250.20,262.70 C250.42,265.08 250.78,267.50 251.20,269.90 C251.62,272.30 252.28,274.70 252.70,277.10 C253.12,279.50 253.55,282.15 253.70,284.30 C253.85,286.45 254.12,287.93 253.60,290.00 C253.08,292.07 251.60,294.37 250.60,296.70 C249.60,299.03 248.47,301.57 247.60,304.00 C246.73,306.43 246.12,308.87 245.40,311.30 C244.68,313.73 243.97,316.17 243.30,318.60 C242.63,321.03 242.00,323.47 241.40,325.90 C240.80,328.33 240.05,331.37 239.70,333.20 C239.35,335.03 239.37,336.28 239.30,336.90 L237.70,336.90 C237.63,336.28 237.65,335.03 237.30,333.20 C236.95,331.37 236.20,328.33 235.60,325.90 C235.00,323.47 234.37,321.03 233.70,318.60 C233.03,316.17 232.32,313.73 231.60,311.30 C230.88,308.87 230.27,306.43 229.40,304.00 C228.53,301.57 227.40,299.03 226.40,296.70 C225.40,294.37 223.92,292.07 223.40,290.00 C222.88,287.93 223.15,286.45 223.30,284.30 C223.45,282.15 223.88,279.50 224.30,277.10 C224.72,274.70 225.38,272.30 225.80,269.90 C226.22,267.50 226.58,265.08 226.80,262.70 C227.02,260.32 226.88,257.98 227.10,255.60 C227.32,253.22 227.58,250.28 228.10,248.40 C228.62,246.52 229.85,244.98 230.20,244.30 Z" fill="#e9ebee" stroke="#2b2b2b" stroke-width="1.15" stroke-linejoin="round"/>
<line x1="238.5" y1="244.5" x2="238.5" y2="336" stroke="#2b2b2b" stroke-width="1"/>
<rect x="235.50" y="260.60" width="6.00" height="33.90" fill="#2f4c56" stroke="#2b2b2b" stroke-width="1"/>
<line x1="235.50" y1="280.7" x2="241.50" y2="280.7" stroke="#222" stroke-width="1.7"/>
<path d="M276.40,239.00 C276.75,240.08 277.77,243.22 278.50,245.50 C279.23,247.78 280.12,250.30 280.80,252.70 C281.48,255.10 282.08,257.52 282.60,259.90 C283.12,262.28 283.47,264.37 283.90,267.00 C284.33,269.63 284.80,272.82 285.20,275.70 C285.60,278.58 286.12,281.78 286.30,284.30 C286.48,286.82 286.52,288.73 286.30,290.80 C286.08,292.87 285.60,294.50 285.00,296.70 C284.40,298.90 283.58,301.57 282.70,304.00 C281.82,306.43 280.68,308.87 279.70,311.30 C278.72,313.73 277.52,316.40 276.80,318.60 C276.08,320.80 275.77,322.83 275.40,324.50 C275.03,326.17 274.73,327.92 274.60,328.60 L268.80,328.60 C268.67,327.92 268.37,326.17 268.00,324.50 C267.63,322.83 267.32,320.80 266.60,318.60 C265.88,316.40 264.68,313.73 263.70,311.30 C262.72,308.87 261.58,306.43 260.70,304.00 C259.82,301.57 259.00,298.90 258.40,296.70 C257.80,294.50 257.32,292.87 257.10,290.80 C256.88,288.73 256.92,286.82 257.10,284.30 C257.28,281.78 257.80,278.58 258.20,275.70 C258.60,272.82 259.07,269.63 259.50,267.00 C259.93,264.37 260.28,262.28 260.80,259.90 C261.32,257.52 261.92,255.10 262.60,252.70 C263.28,250.30 264.17,247.78 264.90,245.50 C265.63,243.22 266.65,240.08 267.00,239.00 Z" fill="#fcf0e7" stroke="#2b2b2b" stroke-width="1.15" stroke-linejoin="round"/>
<line x1="271.7" y1="239.5" x2="271.7" y2="328.5" stroke="#2b2b2b" stroke-width="1"/>
<rect x="269.00" y="265.30" width="5.40" height="33.30" fill="#e8903a" stroke="#2b2b2b" stroke-width="1"/>
<line x1="269.00" y1="285.4" x2="274.40" y2="285.4" stroke="#222" stroke-width="1.7"/>
<rect x="218.6" y="234.3" width="73.00000000000003" height="107.80000000000001" fill="none" stroke="#111" stroke-width="1.5"/>
<line x1="215.29999999999998" y1="316.8" x2="218.6" y2="316.8" stroke="#111" stroke-width="1.2"/>
<text x="212.40" y="320.54" font-size="11" text-anchor="end" >25</text>
<line x1="215.29999999999998" y1="287.0" x2="218.6" y2="287.0" stroke="#111" stroke-width="1.2"/>
<text x="212.40" y="290.74" font-size="11" text-anchor="end" >50</text>
<line x1="215.29999999999998" y1="257.0" x2="218.6" y2="257.0" stroke="#111" stroke-width="1.2"/>
<text x="212.40" y="260.74" font-size="11" text-anchor="end" >75</text>
<line x1="238.5" y1="342.1" x2="238.5" y2="345.40000000000003" stroke="#111" stroke-width="1.2"/>
<text x="244.50" y="353.30" font-size="11" text-anchor="end" transform="rotate(-45 244.50 353.30)">BLa80</text>
<line x1="271.7" y1="342.1" x2="271.7" y2="345.40000000000003" stroke="#111" stroke-width="1.2"/>
<text x="277.70" y="353.30" font-size="11" text-anchor="end" transform="rotate(-45 277.70 353.30)">Placebo</text>
<text x="255.10" y="215.70" font-size="11" text-anchor="middle" >Firmicutes</text>
<text x="255.10" y="227.40" font-size="11" text-anchor="middle" >p.adj = 0.634</text>
<line x1="315.9" y1="337.2" x2="388.3" y2="337.2" stroke="#ebebeb" stroke-width="0.8"/>
<line x1="315.9" y1="309.6" x2="388.3" y2="309.6" stroke="#ebebeb" stroke-width="0.8"/>
<line x1="315.9" y1="282.4" x2="388.3" y2="282.4" stroke="#ebebeb" stroke-width="0.8"/>
<line x1="315.9" y1="255.5" x2="388.3" y2="255.5" stroke="#ebebeb" stroke-width="0.8"/>
<line x1="335.5" y1="234.3" x2="335.5" y2="342.1" stroke="#ebebeb" stroke-width="0.8"/>
<line x1="368.7" y1="234.3" x2="368.7" y2="342.1" stroke="#ebebeb" stroke-width="0.8"/>
<path d="M337.10,239.00 C337.13,240.08 337.08,243.70 337.30,245.50 C337.52,247.30 337.98,248.12 338.40,249.80 C338.82,251.48 338.98,253.45 339.80,255.60 C340.62,257.75 342.20,260.32 343.30,262.70 C344.40,265.08 345.58,267.50 346.40,269.90 C347.22,272.30 347.78,274.70 348.20,277.10 C348.62,279.50 349.07,282.02 348.90,284.30 C348.73,286.58 347.63,288.73 347.20,290.80 C346.77,292.87 346.37,294.50 346.30,296.70 C346.23,298.90 346.62,301.57 346.80,304.00 C346.98,306.43 347.33,308.87 347.40,311.30 C347.47,313.73 347.40,316.17 347.20,318.60 C347.00,321.03 346.68,323.70 346.20,325.90 C345.72,328.10 344.97,329.97 344.30,331.80 C343.63,333.63 342.55,336.05 342.20,336.90 L328.80,336.90 C328.45,336.05 327.37,333.63 326.70,331.80 C326.03,329.97 325.28,328.10 324.80,325.90 C324.32,323.70 324.00,321.03 323.80,318.60 C323.60,316.17 323.53,313.73 323.60,311.30 C323.67,308.87 324.02,306.43 324.20,304.00 C324.38,301.57 324.77,298.90 324.70,296.70 C324.63,294.50 324.23,292.87 323.80,290.80 C323.37,288.73 322.27,286.58 322.10,284.30 C321.93,282.02 322.38,279.50 322.80,277.10 C323.22,274.70 323.78,272.30 324.60,269.90 C325.42,267.50 326.60,265.08 327.70,262.70 C328.80,260.32 330.38,257.75 331.20,255.60 C332.02,253.45 332.18,251.48 332.60,249.80 C333.02,248.12 333.48,247.30 333.70,245.50 C333.92,243.70 333.87,240.08 333.90,239.00 Z" fill="#e9ebee" stroke="#2b2b2b" stroke-width="1.15" stroke-linejoin="round"/>
<line x1="335.5" y1="239.5" x2="335.5" y2="336.5" stroke="#2b2b2b" stroke-width="1"/>
<rect x="332.50" y="280.30" width="6.00" height="40.10" fill="#2f4c56" stroke="#2b2b2b" stroke-width="1"/>
<line x1="332.50" y1="296.7" x2="338.50" y2="296.7" stroke="#222" stroke-width="1.7"/>
<rect x="333.9" y="238.6" width="3.2" height="7" rx="1.2" fill="#2e2e2e"/>
<path d="M373.00,257.30 C373.38,258.20 374.38,260.60 375.30,262.70 C376.22,264.80 377.62,267.50 378.50,269.90 C379.38,272.30 380.05,274.70 380.60,277.10 C381.15,279.50 381.30,281.52 381.80,284.30 C382.30,287.08 383.30,291.25 383.60,293.80 C383.90,296.35 383.98,297.42 383.60,299.60 C383.22,301.78 382.08,304.47 381.30,306.90 C380.52,309.33 379.32,311.77 378.90,314.20 C378.48,316.63 379.02,319.05 378.80,321.50 C378.58,323.95 378.28,326.33 377.60,328.90 C376.92,331.47 375.18,335.57 374.70,336.90 L362.70,336.90 C362.22,335.57 360.48,331.47 359.80,328.90 C359.12,326.33 358.82,323.95 358.60,321.50 C358.38,319.05 358.92,316.63 358.50,314.20 C358.08,311.77 356.88,309.33 356.10,306.90 C355.32,304.47 354.18,301.78 353.80,299.60 C353.42,297.42 353.50,296.35 353.80,293.80 C354.10,291.25 355.10,287.08 355.60,284.30 C356.10,281.52 356.25,279.50 356.80,277.10 C357.35,274.70 358.02,272.30 358.90,269.90 C359.78,267.50 361.18,264.80 362.10,262.70 C363.02,260.60 364.02,258.20 364.40,257.30 Z" fill="#fcf0e7" stroke="#2b2b2b" stroke-width="1.15" stroke-linejoin="round"/>
<line x1="368.7" y1="257.5" x2="368.7" y2="336.5" stroke="#2b2b2b" stroke-width="1"/>
<rect x="365.90" y="278.50" width="5.60" height="39.80" fill="#e8903a" stroke="#2b2b2b" stroke-width="1"/>
<line x1="365.90" y1="300.8" x2="371.50" y2="300.8" stroke="#222" stroke-width="1.7"/>
<rect x="315.9" y="234.3" width="72.40000000000003" height="107.80000000000001" fill="none" stroke="#111" stroke-width="1.5"/>
<line x1="312.59999999999997" y1="337.2" x2="315.9" y2="337.2" stroke="#111" stroke-width="1.2"/>
<text x="309.70" y="340.94" font-size="11" text-anchor="end" >0</text>
<line x1="312.59999999999997" y1="309.6" x2="315.9" y2="309.6" stroke="#111" stroke-width="1.2"/>
<text x="309.70" y="313.34" font-size="11" text-anchor="end" >25</text>
<line x1="312.59999999999997" y1="282.4" x2="315.9" y2="282.4" stroke="#111" stroke-width="1.2"/>
<text x="309.70" y="286.14" font-size="11" text-anchor="end" >50</text>
<line x1="312.59999999999997" y1="255.5" x2="315.9" y2="255.5" stroke="#111" stroke-width="1.2"/>
<text x="309.70" y="259.24" font-size="11" text-anchor="end" >75</text>
<line x1="335.5" y1="342.1" x2="335.5" y2="345.40000000000003" stroke="#111" stroke-width="1.2"/>
<text x="341.50" y="353.30" font-size="11" text-anchor="end" transform="rotate(-45 341.50 353.30)">BLa80</text>
<line x1="368.7" y1="342.1" x2="368.7" y2="345.40000000000003" stroke="#111" stroke-width="1.2"/>
<text x="374.70" y="353.30" font-size="11" text-anchor="end" transform="rotate(-45 374.70 353.30)">Placebo</text>
<text x="352.10" y="215.70" font-size="11" text-anchor="middle" >Bacteroidetes</text>
<text x="352.10" y="227.40" font-size="11" text-anchor="middle" >p.adj = 0.841</text>
<line x1="412.6" y1="336.8" x2="485.4" y2="336.8" stroke="#ebebeb" stroke-width="0.8"/>
<line x1="412.6" y1="307.5" x2="485.4" y2="307.5" stroke="#ebebeb" stroke-width="0.8"/>
<line x1="412.6" y1="278.0" x2="485.4" y2="278.0" stroke="#ebebeb" stroke-width="0.8"/>
<line x1="412.6" y1="248.4" x2="485.4" y2="248.4" stroke="#ebebeb" stroke-width="0.8"/>
<line x1="432.4" y1="234.3" x2="432.4" y2="342.1" stroke="#ebebeb" stroke-width="0.8"/>
<line x1="465.5" y1="234.3" x2="465.5" y2="342.1" stroke="#ebebeb" stroke-width="0.8"/>
<path d="M432.70,241.90 C432.70,246.58 432.70,260.32 432.70,270.00 C432.70,279.68 432.43,293.35 432.70,300.00 C432.97,306.65 433.87,307.53 434.30,309.90 C434.73,312.27 434.78,312.50 435.30,314.20 C435.82,315.90 436.67,318.15 437.40,320.10 C438.13,322.05 439.23,323.95 439.70,325.90 C440.17,327.85 440.35,329.97 440.20,331.80 C440.05,333.63 439.03,336.05 438.80,336.90 L426.00,336.90 C425.77,336.05 424.75,333.63 424.60,331.80 C424.45,329.97 424.63,327.85 425.10,325.90 C425.57,323.95 426.67,322.05 427.40,320.10 C428.13,318.15 428.98,315.90 429.50,314.20 C430.02,312.50 430.07,312.27 430.50,309.90 C430.93,307.53 431.83,306.65 432.10,300.00 C432.37,293.35 432.10,279.68 432.10,270.00 C432.10,260.32 432.10,246.58 432.10,241.90 Z" fill="#e9ebee" stroke="#2b2b2b" stroke-width="1.15" stroke-linejoin="round"/>
<line x1="432.4" y1="242.3" x2="432.4" y2="310" stroke="#333" stroke-width="1.9" stroke-linecap="round"/>
<line x1="432.4" y1="242" x2="432.4" y2="336.5" stroke="#2b2b2b" stroke-width="1"/>
<rect x="429.50" y="310.10" width="5.80" height="26.10" fill="#2f4c56" stroke="#2b2b2b" stroke-width="1"/>
<line x1="429.50" y1="328.9" x2="435.30" y2="328.9" stroke="#222" stroke-width="1.7"/>
<path d="M465.80,238.30 C465.80,239.92 465.65,245.12 465.80,248.00 C465.95,250.88 466.70,253.27 466.70,255.60 C466.70,257.93 465.95,257.93 465.80,262.00 C465.65,266.07 465.68,273.73 465.80,280.00 C465.92,286.27 466.50,295.43 466.50,299.60 C466.50,303.77 465.60,302.57 465.80,305.00 C466.00,307.43 466.90,311.20 467.70,314.20 C468.50,317.20 469.27,320.55 470.60,323.00 C471.93,325.45 474.12,327.20 475.70,328.90 C477.28,330.60 479.48,331.87 480.10,333.20 C480.72,334.53 479.52,336.28 479.40,336.90 L451.60,336.90 C451.48,336.28 450.28,334.53 450.90,333.20 C451.52,331.87 453.72,330.60 455.30,328.90 C456.88,327.20 459.07,325.45 460.40,323.00 C461.73,320.55 462.50,317.20 463.30,314.20 C464.10,311.20 465.00,307.43 465.20,305.00 C465.40,302.57 464.50,303.77 464.50,299.60 C464.50,295.43 465.08,286.27 465.20,280.00 C465.32,273.73 465.35,266.07 465.20,262.00 C465.05,257.93 464.30,257.93 464.30,255.60 C464.30,253.27 465.05,250.88 465.20,248.00 C465.35,245.12 465.20,239.92 465.20,238.30 Z" fill="#fcf0e7" stroke="#2b2b2b" stroke-width="1.15" stroke-linejoin="round"/>
<line x1="465.5" y1="238.5" x2="465.5" y2="336.5" stroke="#2b2b2b" stroke-width="1"/>
<rect x="463.00" y="323.30" width="5.00" height="13.20" fill="#e8903a" stroke="#2b2b2b" stroke-width="1"/>
<line x1="463.00" y1="334.7" x2="468.00" y2="334.7" stroke="#222" stroke-width="1.7"/>
<rect x="412.6" y="234.3" width="72.79999999999995" height="107.80000000000001" fill="none" stroke="#111" stroke-width="1.5"/>
<line x1="409.3" y1="336.8" x2="412.6" y2="336.8" stroke="#111" stroke-width="1.2"/>
<text x="406.40" y="340.54" font-size="11" text-anchor="end" >0</text>
<line x1="409.3" y1="307.5" x2="412.6" y2="307.5" stroke="#111" stroke-width="1.2"/>
<text x="406.40" y="311.24" font-size="11" text-anchor="end" >10</text>
<line x1="409.3" y1="278.0" x2="412.6" y2="278.0" stroke="#111" stroke-width="1.2"/>
<text x="406.40" y="281.74" font-size="11" text-anchor="end" >20</text>
<line x1="409.3" y1="248.4" x2="412.6" y2="248.4" stroke="#111" stroke-width="1.2"/>
<text x="406.40" y="252.14" font-size="11" text-anchor="end" >30</text>
<line x1="432.4" y1="342.1" x2="432.4" y2="345.40000000000003" stroke="#111" stroke-width="1.2"/>
<text x="438.40" y="353.30" font-size="11" text-anchor="end" transform="rotate(-45 438.40 353.30)">BLa80</text>
<line x1="465.5" y1="342.1" x2="465.5" y2="345.40000000000003" stroke="#111" stroke-width="1.2"/>
<text x="471.50" y="353.30" font-size="11" text-anchor="end" transform="rotate(-45 471.50 353.30)">Placebo</text>
<text x="449.00" y="215.70" font-size="11" text-anchor="middle" >Actinobacteria</text>
<text x="449.00" y="227.40" font-size="11" text-anchor="middle" >p.adj = 0.164</text>
<line x1="509.1" y1="336.8" x2="582.1" y2="336.8" stroke="#ebebeb" stroke-width="0.8"/>
<line x1="509.1" y1="312.9" x2="582.1" y2="312.9" stroke="#ebebeb" stroke-width="0.8"/>
<line x1="509.1" y1="288.8" x2="582.1" y2="288.8" stroke="#ebebeb" stroke-width="0.8"/>
<line x1="509.1" y1="264.5" x2="582.1" y2="264.5" stroke="#ebebeb" stroke-width="0.8"/>
<line x1="509.1" y1="240.6" x2="582.1" y2="240.6" stroke="#ebebeb" stroke-width="0.8"/>
<line x1="529.0" y1="234.3" x2="529.0" y2="342.1" stroke="#ebebeb" stroke-width="0.8"/>
<line x1="562.3" y1="234.3" x2="562.3" y2="342.1" stroke="#ebebeb" stroke-width="0.8"/>
<path d="M530.00,317.30 C529.88,317.75 529.20,318.10 529.30,320.00 C529.40,321.90 529.87,326.58 530.60,328.70 C531.33,330.82 531.52,331.60 533.70,332.70 C535.88,333.80 542.10,334.63 543.70,335.30 C545.30,335.97 543.37,336.47 543.30,336.70 L514.70,336.70 C514.63,336.47 512.70,335.97 514.30,335.30 C515.90,334.63 522.12,333.80 524.30,332.70 C526.48,331.60 526.67,330.82 527.40,328.70 C528.13,326.58 528.60,321.90 528.70,320.00 C528.80,318.10 528.12,317.75 528.00,317.30 Z" fill="#e9ebee" stroke="#2b2b2b" stroke-width="1.15" stroke-linejoin="round"/>
<circle cx="529.0" cy="317.6" r="1.6" fill="#2a2a2a"/>
<line x1="529.0" y1="318" x2="529.0" y2="336.7" stroke="#2b2b2b" stroke-width="1"/>
<rect x="527.00" y="332.70" width="4.00" height="4.00" fill="#2f4c56" stroke="#2b2b2b" stroke-width="1"/>
<line x1="527.00" y1="335.5" x2="531.00" y2="335.5" stroke="#222" stroke-width="1.7"/>
<path d="M562.60,238.00 C562.60,241.67 562.60,252.17 562.60,260.00 C562.60,267.83 562.60,276.67 562.60,285.00 C562.60,293.33 562.32,302.95 562.60,310.00 C562.88,317.05 563.63,323.75 564.30,327.30 C564.97,330.85 565.23,330.07 566.60,331.30 C567.97,332.53 571.67,333.77 572.50,334.70 C573.33,335.63 571.75,336.53 571.60,336.90 L553.00,336.90 C552.85,336.53 551.27,335.63 552.10,334.70 C552.93,333.77 556.63,332.53 558.00,331.30 C559.37,330.07 559.63,330.85 560.30,327.30 C560.97,323.75 561.72,317.05 562.00,310.00 C562.28,302.95 562.00,293.33 562.00,285.00 C562.00,276.67 562.00,267.83 562.00,260.00 C562.00,252.17 562.00,241.67 562.00,238.00 Z" fill="#fcf0e7" stroke="#2b2b2b" stroke-width="1.15" stroke-linejoin="round"/>
<circle cx="562.3" cy="238.4" r="1.25" fill="#2b2b2b"/>
<circle cx="562.3" cy="254.4" r="1.25" fill="#2b2b2b"/>
<circle cx="562.3" cy="269.3" r="1.25" fill="#2b2b2b"/>
<circle cx="562.3" cy="296.5" r="1.25" fill="#2b2b2b"/>
<circle cx="562.3" cy="307.4" r="1.25" fill="#2b2b2b"/>
<circle cx="562.3" cy="315.5" r="1.25" fill="#2b2b2b"/>
<circle cx="562.3" cy="322.3" r="1.25" fill="#2b2b2b"/>
<line x1="562.3" y1="238" x2="562.3" y2="336.5" stroke="#2b2b2b" stroke-width="1"/>
<rect x="560.30" y="331.30" width="4.00" height="4.70" fill="#e8903a" stroke="#2b2b2b" stroke-width="1"/>
<line x1="560.30" y1="334.0" x2="564.30" y2="334.0" stroke="#222" stroke-width="1.7"/>
<rect x="509.1" y="234.3" width="73.0" height="107.80000000000001" fill="none" stroke="#111" stroke-width="1.5"/>
<line x1="505.8" y1="336.8" x2="509.1" y2="336.8" stroke="#111" stroke-width="1.2"/>
<text x="502.90" y="340.54" font-size="11" text-anchor="end" >0</text>
<line x1="505.8" y1="312.9" x2="509.1" y2="312.9" stroke="#111" stroke-width="1.2"/>
<text x="502.90" y="316.64" font-size="11" text-anchor="end" >20</text>
<line x1="505.8" y1="288.8" x2="509.1" y2="288.8" stroke="#111" stroke-width="1.2"/>
<text x="502.90" y="292.54" font-size="11" text-anchor="end" >40</text>
<line x1="505.8" y1="264.5" x2="509.1" y2="264.5" stroke="#111" stroke-width="1.2"/>
<text x="502.90" y="268.24" font-size="11" text-anchor="end" >60</text>
<line x1="505.8" y1="240.6" x2="509.1" y2="240.6" stroke="#111" stroke-width="1.2"/>
<text x="502.90" y="244.34" font-size="11" text-anchor="end" >80</text>
<line x1="529.0" y1="342.1" x2="529.0" y2="345.40000000000003" stroke="#111" stroke-width="1.2"/>
<text x="535.00" y="353.30" font-size="11" text-anchor="end" transform="rotate(-45 535.00 353.30)">BLa80</text>
<line x1="562.3" y1="342.1" x2="562.3" y2="345.40000000000003" stroke="#111" stroke-width="1.2"/>
<text x="568.30" y="353.30" font-size="11" text-anchor="end" transform="rotate(-45 568.30 353.30)">Placebo</text>
<text x="545.60" y="215.70" font-size="11" text-anchor="middle" >Proteobacteria</text>
<text x="545.60" y="227.40" font-size="11" text-anchor="middle" >p.adj = 0.048</text>
<line x1="601.2" y1="337.0" x2="673.7" y2="337.0" stroke="#ebebeb" stroke-width="0.8"/>
<line x1="601.2" y1="315.1" x2="673.7" y2="315.1" stroke="#ebebeb" stroke-width="0.8"/>
<line x1="601.2" y1="292.8" x2="673.7" y2="292.8" stroke="#ebebeb" stroke-width="0.8"/>
<line x1="601.2" y1="270.9" x2="673.7" y2="270.9" stroke="#ebebeb" stroke-width="0.8"/>
<line x1="601.2" y1="248.8" x2="673.7" y2="248.8" stroke="#ebebeb" stroke-width="0.8"/>
<line x1="620.8" y1="234.3" x2="620.8" y2="342.1" stroke="#ebebeb" stroke-width="0.8"/>
<line x1="653.8" y1="234.3" x2="653.8" y2="342.1" stroke="#ebebeb" stroke-width="0.8"/>
<line x1="620.8" y1="238" x2="620.8" y2="337" stroke="#2a2a2a" stroke-width="1.3"/>
<circle cx="620.8" cy="325.8" r="1.1" fill="#2a2a2a"/>
<circle cx="620.8" cy="330.1" r="1.1" fill="#2a2a2a"/>
<circle cx="620.8" cy="333.4" r="1.1" fill="#2a2a2a"/>
<ellipse cx="620.8" cy="336.8" rx="3.2" ry="1.3" fill="#2a2a2a"/>
<line x1="639.2" y1="337.1" x2="668.8" y2="337.1" stroke="#3a3a3a" stroke-width="1.6"/>
<line x1="653.8" y1="330.1" x2="653.8" y2="337" stroke="#2a2a2a" stroke-width="1.3"/>
<circle cx="653.8" cy="330.4" r="1.1" fill="#2a2a2a"/>
<ellipse cx="653.8" cy="336.6" rx="2.5" ry="1.2" fill="#2a2a2a"/>
<rect x="601.2" y="234.3" width="72.5" height="107.80000000000001" fill="none" stroke="#111" stroke-width="1.5"/>
<line x1="597.9000000000001" y1="337.0" x2="601.2" y2="337.0" stroke="#111" stroke-width="1.2"/>
<text x="595.00" y="340.74" font-size="11" text-anchor="end" >0</text>
<line x1="597.9000000000001" y1="315.1" x2="601.2" y2="315.1" stroke="#111" stroke-width="1.2"/>
<text x="595.00" y="318.84" font-size="11" text-anchor="end" >1</text>
<line x1="597.9000000000001" y1="292.8" x2="601.2" y2="292.8" stroke="#111" stroke-width="1.2"/>
<text x="595.00" y="296.54" font-size="11" text-anchor="end" >2</text>
<line x1="597.9000000000001" y1="270.9" x2="601.2" y2="270.9" stroke="#111" stroke-width="1.2"/>
<text x="595.00" y="274.64" font-size="11" text-anchor="end" >3</text>
<line x1="597.9000000000001" y1="248.8" x2="601.2" y2="248.8" stroke="#111" stroke-width="1.2"/>
<text x="595.00" y="252.54" font-size="11" text-anchor="end" >4</text>
<line x1="620.8" y1="342.1" x2="620.8" y2="345.40000000000003" stroke="#111" stroke-width="1.2"/>
<text x="626.80" y="353.30" font-size="11" text-anchor="end" transform="rotate(-45 626.80 353.30)">BLa80</text>
<line x1="653.8" y1="342.1" x2="653.8" y2="345.40000000000003" stroke="#111" stroke-width="1.2"/>
<text x="659.80" y="353.30" font-size="11" text-anchor="end" transform="rotate(-45 659.80 353.30)">Placebo</text>
<text x="637.45" y="215.70" font-size="11" text-anchor="middle" >Fusobacteria</text>
<text x="637.45" y="227.40" font-size="11" text-anchor="middle" >p.adj = 0.265</text>
</svg></body></html>
